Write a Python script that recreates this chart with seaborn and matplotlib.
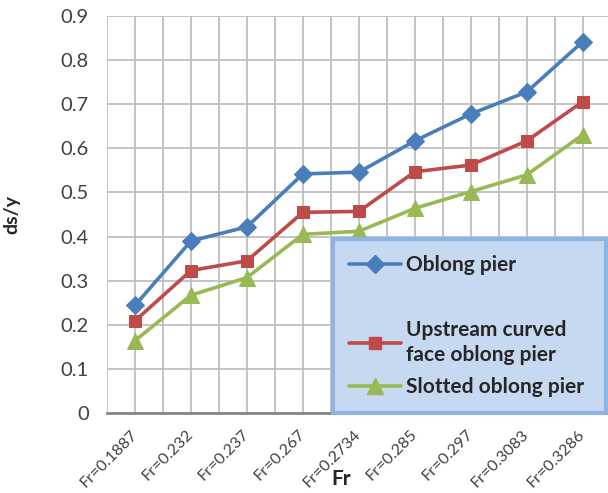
import pandas as pd
import matplotlib.pyplot as plt
import seaborn as sns
from matplotlib.lines import Line2D
from matplotlib.ticker import FixedLocator, MultipleLocator

# Data
fr_labels = ['Fr=0.1887', 'Fr=0.232', 'Fr=0.237', 'Fr=0.267', 'Fr=0.2734',
             'Fr=0.285', 'Fr=0.297', 'Fr=0.3083', 'Fr=0.3286']
oblong = [0.244, 0.390, 0.422, 0.542, 0.546, 0.617, 0.678, 0.728, 0.842]
upstream_curved = [0.209, 0.323, 0.345, 0.455, 0.457, 0.547, 0.562, 0.617, 0.706]
slotted = [0.164, 0.267, 0.307, 0.405, 0.412, 0.464, 0.502, 0.540, 0.631]
series_names = ['Oblong pier', 'Upstream curved\nface oblong pier', 'Slotted oblong pier']

rows = []
for name, vals in zip(series_names, [oblong, upstream_curved, slotted]):
    for i, v in enumerate(vals):
        rows.append({'pos': i, 'ds/y': v, 'series': name})
df = pd.DataFrame(rows)

colors = ['#4a7ebb', '#be4b48', '#98b954']
markers = ['D', 's', '^']
msizes = [9, 9, 11]

sns.set_style('white')
plt.rcParams['font.family'] = ['Lato', 'DejaVu Sans']

fig = plt.figure(figsize=(6.08, 4.93), dpi=100)
ax = fig.add_axes([107 / 608, 1 - 413 / 493, 501 / 608, 397 / 493])

for name, c, m, ms in zip(series_names, colors, markers, msizes):
    sns.lineplot(data=df[df['series'] == name], x='pos', y='ds/y', color=c,
                 marker=m, markersize=ms, markeredgecolor=c, linewidth=2.6,
                 ax=ax, legend=False, zorder=3)

ax.set_xlim(-0.5, 8.45)
ax.set_ylim(0, 0.9)
ax.yaxis.set_major_locator(MultipleLocator(0.1))
ax.set_yticklabels(['0' if v == 0 else f'{v:.1f}' for v in ax.get_yticks()])
ax.xaxis.set_major_locator(FixedLocator(range(len(fr_labels))))
ax.xaxis.set_minor_locator(FixedLocator([i - 0.5 for i in range(len(fr_labels) + 1)]))
ax.set_xticklabels(fr_labels, rotation=45, ha='right', va='center',
                   rotation_mode='anchor', fontsize=11.5, color='#404040')
ax.tick_params(axis='x', which='both', length=4, color='#868686', pad=10)
ax.tick_params(axis='y', length=0, pad=13, labelsize=14.5, labelcolor='#404040')

ax.grid(True, which='both', color='#bfbfbf', linewidth=1.3)
ax.set_axisbelow(True)
for s in ['top', 'right', 'left']:
    ax.spines[s].set_visible(False)
ax.spines['bottom'].set_color('#868686')
ax.spines['bottom'].set_linewidth(2)

ax.set_ylabel('ds/y', fontsize=14, fontweight='bold')
ax.yaxis.set_label_coords((20 - 107) / 501, 0.5)
ax.set_xlabel('Fr', fontsize=15, fontweight='bold')
ax.xaxis.set_label_coords((341 - 107) / 501, -0.14)

handles = [Line2D([], [], color=colors[0], marker=markers[0], markersize=msizes[0], lw=2.6),
           Line2D([], [], color='none'),
           Line2D([], [], color=colors[1], marker=markers[1], markersize=msizes[1], lw=2.6),
           Line2D([], [], color=colors[2], marker=markers[2], markersize=msizes[2], lw=2.6)]
labels = [series_names[0], ' ', series_names[1], series_names[2]]
leg = ax.legend(handles, labels, loc='lower left',
                bbox_to_anchor=((333 - 107) / 501, 0.0, (606 - 333) / 501, 0.45),
                mode='expand', borderaxespad=0, fancybox=False, framealpha=1,
                facecolor='#c6d9f1', edgecolor='#8eb4e3',
                prop={'weight': 'bold', 'size': 15}, handlelength=2.5,
                handletextpad=0.25, labelspacing=0.6, borderpad=0.75)
leg.get_frame().set_linewidth(3)
for t in leg.get_texts():
    t.set_linespacing(1.3)
leg.set_zorder(5)

fig.savefig('out.png', dpi=100)
